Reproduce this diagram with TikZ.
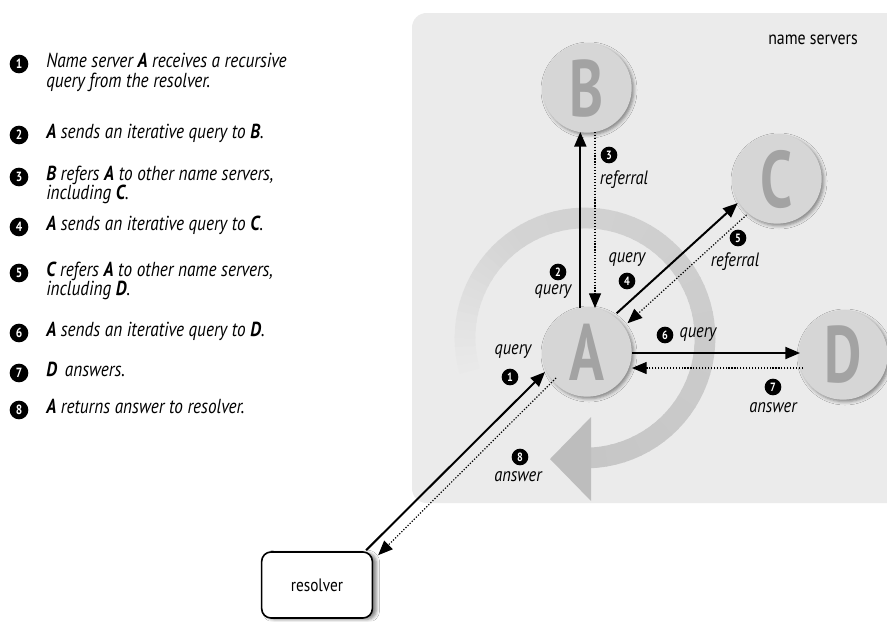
\documentclass[tikz,border=0pt]{standalone}
\usepackage{fontspec}
\setmainfont{PT Sans}
\newfontfamily\capfont[FakeStretch=0.85]{PT Sans}
\newfontfamily\bigfont[FakeStretch=0.72]{PT Sans}
\usetikzlibrary{arrows.meta,shadows.blur,calc}

\colorlet{panel}{black!8}
\colorlet{disc}{black!16}
\colorlet{letter}{black!36}
\colorlet{ringhead}{black!26}

\tikzset{
  server/.style={circle, fill=disc, minimum size=67pt, inner sep=0pt,
    blur shadow={shadow xshift=1.5pt, shadow yshift=-1.5pt,
      shadow blur radius=2.5pt, shadow opacity=45},
    font=\bigfont\bfseries\fontsize{60}{60}\selectfont, text=letter},
  numdot/.style={circle, fill=black, inner sep=0pt, minimum size=12.5pt,
    text=white, font=\capfont\bfseries\fontsize{9}{9}\selectfont},
  keydot/.style={numdot, minimum size=14pt,
    font=\capfont\bfseries\fontsize{10}{10}\selectfont},
  msg/.style={font=\capfont\itshape\fontsize{14.5}{14.5}\selectfont, inner sep=0pt},
  keytext/.style={font=\capfont\itshape\fontsize{15.2}{16}\selectfont,
    anchor=mid west, inner sep=0pt},
  ask/.style={line width=1.5pt, -{Triangle[length=11pt,width=9pt]}},
  reply/.style={line width=0.9pt, dash pattern=on 0.9pt off 1.3pt,
    -{Triangle[length=11pt,width=9pt]}},
}

\begin{document}
\begin{tikzpicture}[x=0.75pt,y=-0.75pt]
\useasboundingbox (0,0) rectangle (887,621);
\fill[white] (0,0) rectangle (887,621);

\begin{scope}
\clip (0,0) rectangle (887,621);
% shaded area holding the name servers
\fill[panel, rounded corners=11pt] (412,13) rectangle (910,503);
\node[font=\capfont\fontsize{14}{14}\selectfont, inner sep=0pt] (title) at (813,40) {name servers};

% circular arrow around A, fading in from its tail
\foreach \i in {0,...,71} {
  \pgfmathsetmacro\aa{160+4*\i}
  \pgfmathsetmacro\bb{\aa+4.6}
  \pgfmathsetmacro\shade{min(8+0.5*\i,17)+0.1*max(\i-18,0)}
  \draw[line width=15.5pt, color=black!\shade]
    ([shift={(\aa:120)}]585,338) arc[start angle=\aa, end angle=\bb, radius=120];
}
\fill[ringhead] (591,417) -- (550,459) -- (591,501) -- cycle;

% the servers
\node[server] (A) at (587,352) {A};
\node[server] (B) at (587,88) {B};
\node[server] (C) at (777,179) {C};
\node[server] (D) at (843,355) {D};
\end{scope}

% the resolver
\node[draw, line width=1.2pt, rounded corners=7pt, minimum width=83pt,
  minimum height=49.5pt, fill=white, inner sep=0pt,
  blur shadow={shadow xshift=3pt, shadow yshift=-1pt, shadow blur radius=2.5pt, shadow opacity=50},
  font=\capfont\fontsize{13.5}{13.5}\selectfont] (R) at (317,585) {resolver};

% queries (solid) and replies (dotted)
\draw[ask] ($(R.north east)+(-7,-1)$) -- ($(A)+(-42,20)$);
\draw[ask] ($(A)!33pt!(B)!5pt!90:(B)$) -- ($(B)!33pt!(A)!5pt!-90:(A)$);
\draw[reply] ($(B)!33pt!(A)!6pt!90:(A)$) -- ($(A)!33pt!(B)!6pt!-90:(B)$);
\draw[ask] ($(A)!36pt!(C)!6.5pt!90:(C)$) -- ($(C)!34pt!(A)!6.5pt!-90:(A)$);
\draw[reply] ($(C)!35pt!(A)!4.5pt!90:(A)$) -- ($(A)!37pt!(C)!4.5pt!-90:(C)$);
\draw[ask] ($(A)+(45,1)$) -- ($(D)+(-43,-2)$);
\draw[reply] ($(D)+(-40,13)$) -- ($(A)+(45,16)$);
\draw[reply] ($(A)+(-31,26)$) -- ($(R.north east)+(5,4)$);

% step labels
\node[numdot] (s1) at (510,377) {1};
\node[msg] (m1) at (513,352) {query};
\node[numdot] (s2) at (558,272) {2};
\node[msg] (m2) at (553,292) {query};
\node[numdot] (s3) at (609,155) {3};
\node[msg] (m3) at (624,180) {referral};
\node[numdot] (s4) at (627,281) {4};
\node[msg] (m4) at (627,260) {query};
\node[numdot] (s5) at (738,238) {5};
\node[msg] (m5) at (735,262) {referral};
\node[numdot] (s6) at (665,335) {6};
\node[msg] (m6) at (698,335) {query};
\node[numdot] (s7) at (773,387) {7};
\node[msg] (m7) at (773,408) {answer};
\node[numdot] (s8) at (520,457) {8};
\node[msg] (m8) at (518,477) {answer};

% key
\node[keydot] (k1) at (19,64) {1};
\node[keytext] (t1) at (46,64) {Name server \textbf{A} receives a recursive};
\node[keytext] (t1b) at (46,84) {query from the resolver.};
\node[keydot] (k2) at (19,135) {2};
\node[keytext] (t2) at (46,135) {\textbf{A} sends an iterative query to \textbf{B}.};
\node[keydot] (k3) at (19,177) {3};
\node[keytext] (t3) at (46,177) {\textbf{B} refers \textbf{A} to other name servers,};
\node[keytext] (t3b) at (46,196) {including \textbf{C}.};
\node[keydot] (k4) at (19,227) {4};
\node[keytext] (t4) at (46,227) {\textbf{A} sends an iterative query to \textbf{C}.};
\node[keydot] (k5) at (19,273) {5};
\node[keytext] (t5) at (46,273) {\textbf{C} refers \textbf{A} to other name servers,};
\node[keytext] (t5b) at (46,292) {including \textbf{D}.};
\node[keydot] (k6) at (19,333) {6};
\node[keytext] (t6) at (46,333) {\textbf{A} sends an iterative query to \textbf{D}.};
\node[keydot] (k7) at (19,373) {7};
\node[keytext] (t7) at (46,373) {\textbf{D}\, answers.};
\node[keydot] (k8) at (19,410) {8};
\node[keytext] (t8) at (46,410) {\textbf{A} returns answer to resolver.};
\end{tikzpicture}
\end{document}
